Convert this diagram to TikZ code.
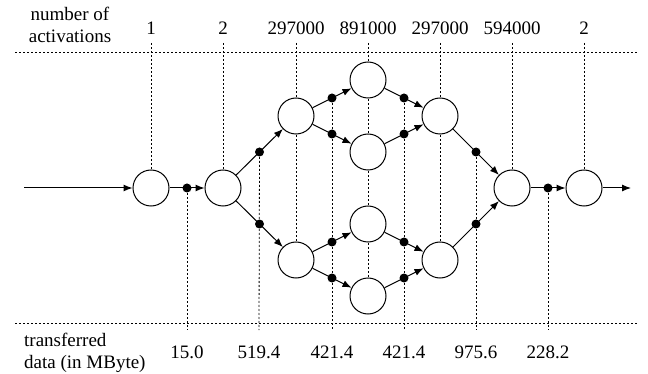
\documentclass[tikz,border=0pt]{standalone}
\usepackage{fontspec}
\setmainfont{Liberation Serif}
\usetikzlibrary{arrows.meta,backgrounds}
\begin{document}
\begin{tikzpicture}[x=1pt,y=-1pt,
  proc/.style={circle,draw,fill=white,minimum size=36pt,inner sep=0pt,line width=1pt},
  dotn/.style={circle,fill=black,minimum size=9pt,inner sep=0pt},
  flow/.style={line width=1pt,-{Latex[length=9pt,width=7pt]}},
  guide/.style={line width=0.8pt,dash pattern=on 2pt off 2pt},
  lbl/.style={font=\fontsize{19}{22}\selectfont,inner sep=0pt}]
\useasboundingbox (0,0) rectangle (648,374);
% process nodes
\node[proc] (A) at (151,188) {};
\node[proc] (B) at (223,188) {};
\node[proc] (C1) at (296,116) {};
\node[proc] (C2) at (296,260) {};
\node[proc] (D1) at (368,80) {};
\node[proc] (D2) at (368,152) {};
\node[proc] (D3) at (368,224) {};
\node[proc] (D4) at (368,296) {};
\node[proc] (E1) at (440,116) {};
\node[proc] (E2) at (440,260) {};
\node[proc] (F) at (512,188) {};
\node[proc] (G) at (584,188) {};
\coordinate (in) at (24,188);
\coordinate (out) at (631,188);
% edges with data dots
\draw[flow] (in) -- (A);
\draw[flow] (A) -- node[dotn] (m1) {} (B);
\draw[flow] (B) -- node[dotn] (m2) {} (C1);
\draw[flow] (B) -- node[dotn] (m3) {} (C2);
\draw[flow] (C1) -- node[dotn] (m4) {} (D1);
\draw[flow] (C1) -- node[dotn] (m5) {} (D2);
\draw[flow] (C2) -- node[dotn] (m6) {} (D3);
\draw[flow] (C2) -- node[dotn] (m7) {} (D4);
\draw[flow] (D1) -- node[dotn] (m8) {} (E1);
\draw[flow] (D2) -- node[dotn] (m9) {} (E1);
\draw[flow] (D3) -- node[dotn] (m10) {} (E2);
\draw[flow] (D4) -- node[dotn] (m11) {} (E2);
\draw[flow] (E1) -- node[dotn] (m12) {} (F);
\draw[flow] (E2) -- node[dotn] (m13) {} (F);
\draw[flow] (F) -- node[dotn] (m14) {} (G);
\draw[flow] (G) -- (out);
% labels
\node[lbl,align=center] (hdrtop) at (70,25) {number of\\activations};
\node[lbl] (t1) at (151,28) {1};
\node[lbl] (t2) at (223,28) {2};
\node[lbl] (t3) at (296,28) {297000};
\node[lbl] (t4) at (368,28) {891000};
\node[lbl] (t5) at (440,28) {297000};
\node[lbl] (t6) at (512,28) {594000};
\node[lbl] (t7) at (584,28) {2};
\node[lbl,align=left,anchor=west] (hdrbot) at (24,353) {transferred\\data (in MByte)};
\node[lbl] (b1) at (187,352) {15.0};
\node[lbl] (b2) at (259,352) {519.4};
\node[lbl] (b3) at (332,352) {421.4};
\node[lbl] (b4) at (404,352) {421.4};
\node[lbl] (b5) at (476,352) {975.6};
\node[lbl] (b6) at (548,352) {228.2};
% guide lines
\begin{scope}[on background layer]
\draw[guide] (15,52) -- (638,52);
\draw[guide] (15,323) -- (638,323);
\draw[guide] (151,43) -- (A);
\draw[guide] (223,43) -- (B);
\draw[guide] (296,43) -- (C2);
\draw[guide] (368,43) -- (D4);
\draw[guide] (440,43) -- (E2);
\draw[guide] (512,43) -- (F);
\draw[guide] (584,43) -- (G);
\draw[guide] (m1) -- (187,330);
\draw[guide] (m2) -- (259,330);
\draw[guide] (m4) -- (332,330);
\draw[guide] (m8) -- (404,330);
\draw[guide] (m12) -- (476,330);
\draw[guide] (m14) -- (548,330);
\end{scope}
\end{tikzpicture}
\end{document}
